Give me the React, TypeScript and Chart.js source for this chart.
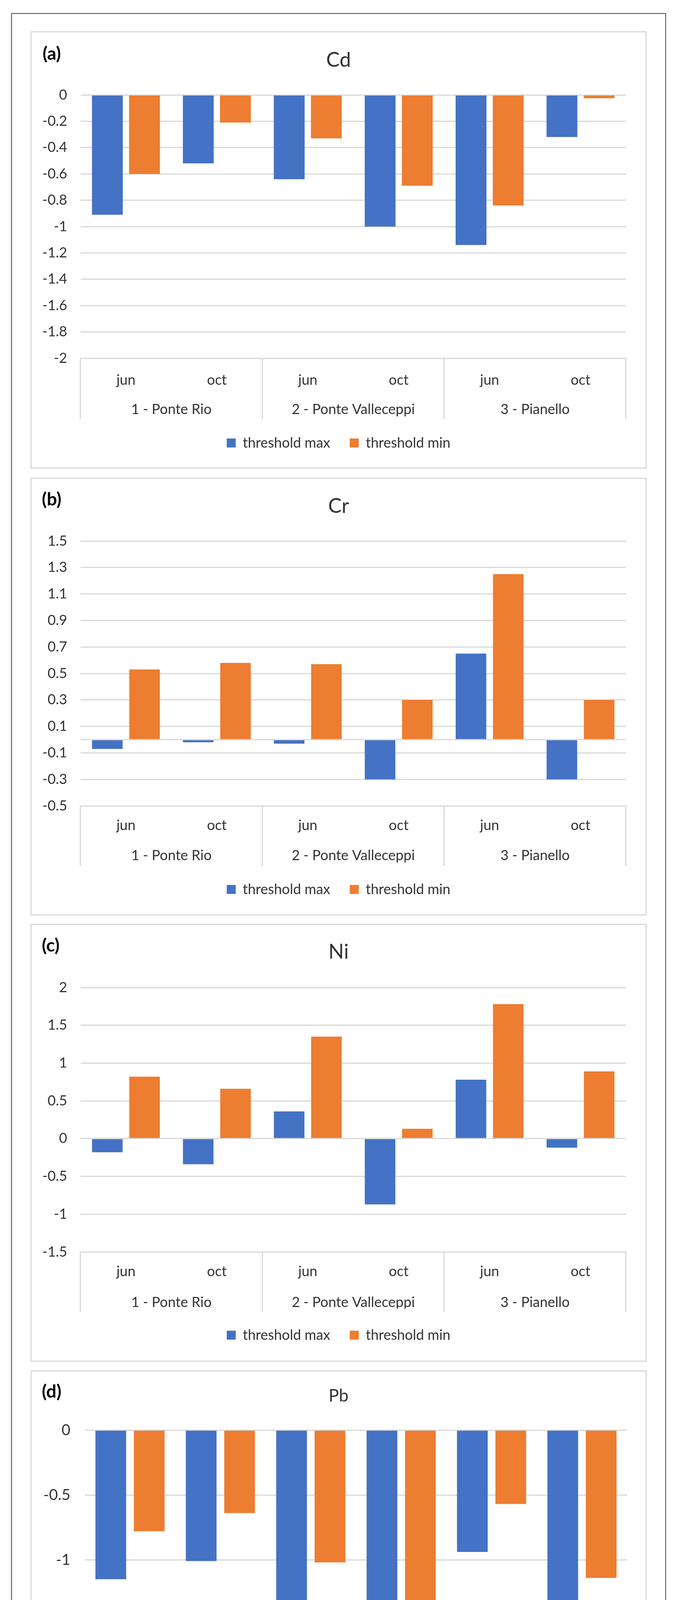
import React, { useEffect, useRef } from 'react';
import { Chart, registerables } from 'chart.js';

Chart.register(...registerables);

// ---------- data ----------
const months = ['jun', 'oct', 'jun', 'oct', 'jun', 'oct'];
const sites = ['1 - Ponte Rio', '2 - Ponte Valleceppi', '3 - Pianello'];
const seriesNames = ['threshold max', 'threshold min'];

const cdMax = [-0.91, -0.52, -0.64, -1.0, -1.14, -0.32];
const cdMin = [-0.6, -0.21, -0.33, -0.69, -0.84, -0.025];
const cdTicks = [0, -0.2, -0.4, -0.6, -0.8, -1, -1.2, -1.4, -1.6, -1.8, -2];

const crMax = [-0.07, -0.02, -0.03, -0.3, 0.65, -0.3];
const crMin = [0.53, 0.58, 0.57, 0.3, 1.25, 0.3];
const crTicks = [1.5, 1.3, 1.1, 0.9, 0.7, 0.5, 0.3, 0.1, -0.1, -0.3, -0.5];
const crAxisLine = [0];

const niMax = [-0.18, -0.34, 0.36, -0.87, 0.78, -0.12];
const niMin = [0.82, 0.66, 1.35, 0.13, 1.78, 0.89];
const niTicks = [2, 1.5, 1, 0.5, 0, -0.5, -1, -1.5];

const pbMax = [-1.15, -1.01, -1.39, -1.84, -0.94, -1.5];
const pbMin = [-0.78, -0.64, -1.02, -1.48, -0.57, -1.14];
const pbTicks = [0, -0.5, -1, -1.5, -2];

// ---------- styles ----------
const BLUE = '#4472C4';
const ORANGE = '#ED7D31';
const GRID = '#d9d9d9';
const TEXT = '#333333';
const FONT = 'Lato, "Noto Sans", "DejaVu Sans", sans-serif';

const panels = [
  {
    tag: '(a)', title: 'Cd', max: cdMax, min: cdMin, ticks: cdTicks, extra: [] as number[],
    L: { T: 80, h: 1120, titleC: 71, top: 160, bottom: 834, jun: 890, group: 965, sepEnd: 990, legend: 1051,
      left: 125, padRight: 50, tickPad: 34, font: 36, titleSize: 52, cp: 0.817, bp: 0.83, tagX: 109, tagY: 136 },
  },
  {
    tag: '(b)', title: 'Cr', max: crMax, min: crMin, ticks: crTicks, extra: crAxisLine,
    L: { T: 1223, h: 1121, titleC: 70, top: 159, bottom: 837, jun: 887, group: 964, sepEnd: 991, legend: 1051,
      left: 125, padRight: 50, tickPad: 34, font: 36, titleSize: 52, cp: 0.82, bp: 0.82, tagX: 107, tagY: 1277 },
  },
  {
    tag: '(c)', title: 'Ni', max: niMax, min: niMin, ticks: niTicks, extra: [] as number[],
    L: { T: 2365, h: 1121, titleC: 69, top: 160, bottom: 837, jun: 887, group: 966, sepEnd: 991, legend: 1050,
      left: 125, padRight: 50, tickPad: 34, font: 36, titleSize: 52, cp: 0.82, bp: 0.82, tagX: 107, tagY: 2419 },
  },
  {
    tag: '(d)', title: 'Pb', max: pbMax, min: pbMin, ticks: pbTicks, extra: [] as number[],
    L: { T: 3508, h: 1120, titleC: 63, top: 150, bottom: 814, jun: 874, group: 959, sepEnd: 986, legend: 1049,
      left: 136, padRight: 47, tickPad: 37, font: 39, titleSize: 44, cp: 0.85, bp: 0.8, tagX: 107, tagY: 3561 },
  },
];

const PANEL_LEFT = 78;
const PANEL_W = 1577;
const BORDER = 3;

function Panel({ p }: { p: any }) {
  const ref = useRef<HTMLCanvasElement | null>(null);
  const L = p.L;
  const W = PANEL_W - 2 * BORDER;
  const H = L.h - 2 * BORDER;

  useEffect(() => {
    if (!ref.current) return;
    const fs = L.font;
    const lhF = fs * 1.2;
    const tlh = L.titleSize * 1.2;
    const xTL = L.sepEnd - L.bottom;
    const xH = (L.jun + L.group) / 2 - L.bottom;
    const xPad = L.jun - L.bottom - xTL - lhF / 2;
    const x2Top = L.bottom + xH;
    const x2Pad = L.group - x2Top - lhF / 2;
    const legPad = 50;
    const legTop = L.legend - legPad - fs / 2;
    const legBottom = legTop + fs + legPad + 10;
    const pb = H - legBottom;
    const x2H = legTop - x2Top;
    const font = { family: FONT, size: fs, lineHeight: 1.2 };
    const allTicks = [...p.ticks, ...p.extra].sort((a: number, b: number) => a - b);
    const yMin = Math.min(...p.ticks);
    const yMax = Math.max(...p.ticks);

    const chart = new Chart(ref.current, {
      type: 'bar',
      data: {
        labels: months,
        datasets: [
          { label: seriesNames[0], data: p.max, backgroundColor: BLUE, borderWidth: 0 },
          { label: seriesNames[1], data: p.min, backgroundColor: ORANGE, borderWidth: 0 },
        ],
      },
      options: {
        animation: false,
        responsive: false,
        maintainAspectRatio: false,
        devicePixelRatio: 1,
        layout: { padding: { top: 0, left: 0, right: 0, bottom: pb } },
        datasets: { bar: { categoryPercentage: L.cp, barPercentage: L.bp } },
        plugins: {
          title: {
            display: true,
            text: p.title,
            color: TEXT,
            font: { family: FONT, size: L.titleSize, weight: 'normal', lineHeight: 1.2 },
            padding: { top: L.titleC - tlh / 2, bottom: L.top - L.titleC - tlh / 2 },
          },
          legend: {
            position: 'bottom',
            labels: { boxWidth: 23, boxHeight: 23, padding: legPad, color: TEXT, font },
          },
          tooltip: { enabled: false },
        },
        scales: {
          x: {
            type: 'category',
            position: 'bottom',
            weight: 1,
            offset: true,
            grid: {
              display: true,
              offset: true,
              drawOnChartArea: false,
              drawTicks: true,
              tickLength: xTL,
              lineWidth: 3,
              color: (c: any) => (c.type !== 'tick' || c.index % 2 === 0 ? GRID : 'rgba(0,0,0,0)'),
            },
            border: { display: true, color: GRID, width: 3 },
            ticks: { color: TEXT, font, padding: xPad, autoSkip: false, maxRotation: 0, minRotation: 0 },
            afterFit: (s: any) => { s.height = xH; },
          },
          x2: {
            type: 'category',
            labels: sites,
            position: 'bottom',
            weight: 2,
            offset: true,
            grid: { display: false, drawTicks: false, tickLength: 0 },
            border: { display: false },
            ticks: { color: TEXT, font, padding: x2Pad, autoSkip: false, maxRotation: 0, minRotation: 0 },
            afterFit: (s: any) => { s.height = x2H; },
          },
          y: {
            type: 'linear',
            position: 'left',
            min: yMin,
            max: yMax,
            afterBuildTicks: (s: any) => { s.ticks = allTicks.map((v: number) => ({ value: v })); },
            grid: { color: GRID, lineWidth: 3, drawTicks: false },
            border: { display: false },
            ticks: {
              color: TEXT,
              font,
              padding: L.tickPad,
              autoSkip: false,
              callback: (v: any) => (p.ticks.includes(v) ? String(v) : ''),
            },
            afterFit: (s: any) => { s.width = L.left; },
          },
          yRightSpace: {
            type: 'linear',
            position: 'right',
            display: true,
            min: 0,
            max: 1,
            grid: { display: false, drawTicks: false, tickLength: 0 },
            border: { display: false },
            ticks: { display: false },
            afterFit: (s: any) => { s.width = L.padRight; },
          },
        },
      } as any,
    });
    return () => chart.destroy();
  }, []);

  return (
    <div
      style={{
        position: 'absolute',
        left: PANEL_LEFT,
        top: L.T,
        width: PANEL_W,
        height: L.h,
        border: `${BORDER}px solid ${GRID}`,
        boxSizing: 'border-box',
        background: '#fff',
      }}
    >
      <canvas ref={ref} width={W} height={H} style={{ display: 'block', width: W, height: H }} />
      <span
        style={{
          position: 'absolute',
          left: L.tagX - PANEL_LEFT - BORDER,
          top: L.tagY - L.T - BORDER - 23,
          fontFamily: FONT,
          fontWeight: 'bold',
          fontSize: 46,
          lineHeight: '46px',
          color: '#000',
          whiteSpace: 'nowrap',
        }}
      >
        {p.tag}
      </span>
    </div>
  );
}

export default function App() {
  return (
    <div style={{ position: 'absolute', left: 0, top: 0, width: 1730, height: 4702, background: '#fff' }}>
      <div
        style={{
          position: 'absolute',
          left: 28,
          top: 33,
          width: 1677,
          height: 4643,
          border: '3px solid #7f7f7f',
          boxSizing: 'border-box',
        }}
      />
      {panels.map((p) => (
        <Panel key={p.tag} p={p} />
      ))}
    </div>
  );
}
